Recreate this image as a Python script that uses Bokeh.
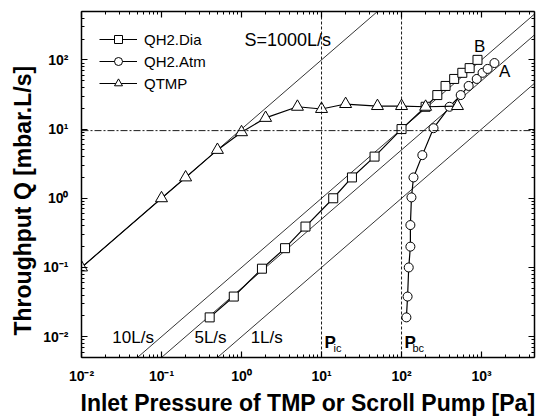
import math
from bokeh.plotting import figure
from bokeh.models import (FixedTicker, LogAxis, Label, Legend, LegendItem, Span,
                          ColumnDataSource, CustomJSTickFormatter, Title)
from bokeh.embed import file_html
from bokeh.resources import INLINE

# ---------------- data ----------------
p_dia = [0.4, 0.8, 1.8, 3.5, 6.3, 14, 24, 46, 100, 200, 280, 355, 455, 575, 710, 890]
q_dia = [0.019, 0.038, 0.096, 0.19, 0.39, 1.0, 2.0, 4.0, 10, 21, 31, 42, 53, 65, 76, 100]

p_atm = [115, 119, 123, 129, 129, 133, 141, 182, 251, 398, 549, 690, 871, 1030, 1190, 1450]
q_atm = [0.019, 0.038, 0.1, 0.2, 0.41, 1.03, 2.0, 4.2, 10.3, 21, 31, 42, 53, 65, 74, 90]

p_tmp = [0.01, 0.1, 0.2, 0.5, 1, 2, 5, 10, 20, 50, 100, 200, 500]
q_tmp = [0.1, 1, 2, 5, 9, 14.5, 21, 19.5, 23, 21.5, 21.5, 21, 21.5]

speeds = [1000, 10, 5, 1]          # pumping speed reference lines, L/s
p_span = [0.01, 5000]              # pressure extent of the reference lines, Pa
p_ic = 10                          # Pa
p_bc = 100                         # Pa
q_limit = 9.5                      # mbar.L/s

x_major = [1e-2, 1e-1, 1e0, 1e1, 1e2, 1e3]
y_major = [1e-2, 1e-1, 1e0, 1e1, 1e2]
x_minor = [k * 10.0 ** e for e in range(-2, 4) for k in range(2, 10)]
y_minor = [k * 10.0 ** e for e in range(-3, 3) for k in range(2, 10)]

FONT = "Liberation Sans"

W, H = 536, 418
p = figure(width=W, height=H, x_axis_type="log", y_axis_type="log",
           x_range=(0.01, 4590), y_range=(0.005, 500),
           output_backend="svg", toolbar_location=None,
           min_border_left=81, min_border_right=2, min_border_top=11,
           min_border_bottom=61)
p.grid.visible = False
p.outline_line_color = None
p.background_fill_color = "white"

xt = FixedTicker(ticks=x_major, minor_ticks=x_minor)
yt = FixedTicker(ticks=y_major, minor_ticks=y_minor)

pow_fmt = CustomJSTickFormatter(code="""
const sup = {'-': '\u207b', '0': '\u2070', '1': '\u00b9', '2': '\u00b2', '3': '\u00b3',
             '4': '\u2074', '5': '\u2075'};
const e = Math.round(Math.log10(tick));
return '10' + String(e).split('').map(c => sup[c]).join('');
""")
blank_fmt = CustomJSTickFormatter(code="return '';")

def style_axis(ax, show_labels=True):
    ax.major_tick_in = 6
    ax.major_tick_out = 0
    ax.minor_tick_in = 3
    ax.minor_tick_out = 0
    ax.axis_line_width = 1.5
    ax.major_tick_line_width = 1.2
    ax.axis_line_color = "black"
    ax.major_tick_line_color = "black"
    ax.minor_tick_line_color = "black"
    if show_labels:
        ax.formatter = pow_fmt
        ax.major_label_text_font = FONT
        ax.major_label_text_font_style = "bold"
        ax.major_label_text_font_size = "14px"
        ax.major_label_text_color = "black"
    else:
        ax.formatter = blank_fmt
        ax.major_label_standoff = 0

fs = "23px"

xa = p.xaxis[0]
xa.ticker = xt
style_axis(xa)
xa.major_label_standoff = 10
xa.axis_label = "Inlet Pressure of TMP or Scroll Pump [Pa]"
xa.axis_label_text_font = FONT
xa.axis_label_text_font_size = fs
xa.axis_label_text_font_style = "bold"
xa.axis_label_text_color = "black"
xa.axis_label_standoff = 3

ya = p.yaxis[0]
ya.ticker = yt
style_axis(ya)
ya.major_label_standoff = 13

top = LogAxis(ticker=xt)
style_axis(top, show_labels=False)
p.add_layout(top, "above")
right = LogAxis(ticker=yt)
style_axis(right, show_labels=False)
p.add_layout(right, "right")

# y-axis title: starts a little above the bottom of the frame, as in the reference
p.add_layout(Title(text="Throughput Q [mbar.L/s]", align="left", offset=22,
                   text_font=FONT, text_font_size=fs, text_font_style="bold",
                   text_color="black"), "left")

# reference pumping-speed lines Q = S * P (P in Pa -> mbar: /100)
for s in speeds:
    p.line(p_span, [s * v / 100.0 for v in p_span], line_color="black", line_width=0.8)

# critical pressures / limit
p.add_layout(Span(location=p_ic, dimension="height", line_color="black",
                  line_dash="3 2", line_width=0.9))
p.add_layout(Span(location=p_bc, dimension="height", line_color="black",
                  line_dash="3 2", line_width=0.9))
p.add_layout(Span(location=q_limit, dimension="width", line_color="black",
                  line_dash="7 2 2 2", line_width=0.9))

# data series
src_dia = ColumnDataSource(dict(x=p_dia, y=q_dia))
src_atm = ColumnDataSource(dict(x=p_atm, y=q_atm))
src_tmp = ColumnDataSource(dict(x=p_tmp, y=q_tmp))

l1 = p.line("x", "y", source=src_dia, line_color="black", line_width=1.2)
m1 = p.scatter("x", "y", source=src_dia, marker="square", size=9,
               fill_color="white", line_color="black", line_width=1)
l2 = p.line("x", "y", source=src_atm, line_color="black", line_width=1.2)
m2 = p.scatter("x", "y", source=src_atm, marker="circle", size=9,
               fill_color="white", line_color="black", line_width=1)
l3 = p.line("x", "y", source=src_tmp, line_color="black", line_width=1.2)
m3 = p.scatter("x", "y", source=src_tmp, marker="triangle", size=12,
               fill_color="white", line_color="black", line_width=1)

legend = Legend(items=[LegendItem(label="QH2.Dia", renderers=[l1, m1]),
                       LegendItem(label="QH2.Atm", renderers=[l2, m2]),
                       LegendItem(label="QTMP", renderers=[l3, m3])],
                location="top_left", glyph_width=38, glyph_height=20,
                label_height=20, spacing=2, margin=14, padding=4,
                label_standoff=7, label_text_font=FONT,
                label_text_font_size="15px", label_text_color="black",
                background_fill_alpha=0, border_line_alpha=0)
p.add_layout(legend)

def txt(x, y, t, size="17px", style="normal", align="left", baseline="middle"):
    p.add_layout(Label(x=x, y=y, text=t, text_font=FONT, text_font_size=size,
                       text_font_style=style, text_align=align,
                       text_baseline=baseline, text_color="black"))

txt(1.09, 195, "S=1000L/s", size="18px")
txt(944, 155, "B", align="center")
txt(1940, 69, "A", align="center")
txt(0.0243, 0.0098, "10L/s")
txt(0.258, 0.0098, "5L/s")
txt(1.30, 0.0098, "1L/s")
txt(10.9, 0.0082, "P", style="bold")
txt(14.1, 0.0068, "ic", size="11px")
txt(109, 0.0082, "P", style="bold")
txt(137, 0.0068, "bc", size="11px")

open("out.html", "w").write(file_html(p, INLINE))
